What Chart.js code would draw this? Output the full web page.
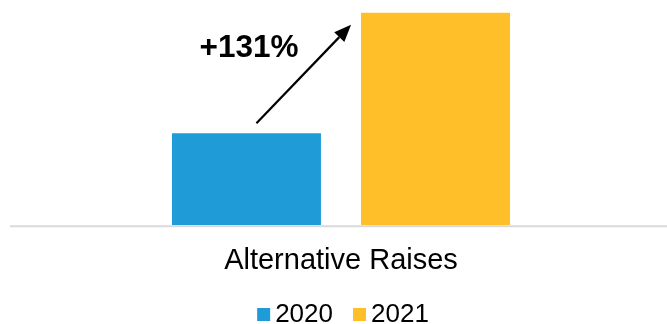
<!DOCTYPE html>
<html>
<head>
<meta charset="utf-8">
<script src="https://cdn.jsdelivr.net/npm/chart.js@4/dist/chart.umd.min.js"></script>
<style>
  html, body { margin: 0; padding: 0; background: #ffffff; }
  #wrap { width: 667px; height: 324px; position: relative; }
</style>
</head>
<body>
<div id="wrap"><canvas id="c" width="667" height="324"></canvas></div>
<script>
const categories = ['Alternative Raises'];
const seriesLabels = ['2020', '2021'];
const values2020 = [100];
const values2021 = [231];
const changeLabel = '+131%';
const seriesColors = ['#1F9BD7', '#FFBF29'];

const FONT = '"Liberation Sans", Arial, sans-serif';

const decor = {
  id: 'decor',
  afterDatasetsDraw(chart) {
    const ctx = chart.ctx;
    const yZero = chart.scales.y.getPixelForValue(0);
    // baseline
    ctx.save();
    ctx.strokeStyle = '#D9D9D9';
    ctx.lineWidth = 2;
    ctx.beginPath();
    ctx.moveTo(10, yZero + 1);
    ctx.lineTo(chart.width, yZero + 1);
    ctx.stroke();

    // arrow between bars
    const b0 = chart.getDatasetMeta(0).data[0];
    const b1 = chart.getDatasetMeta(1).data[0];
    const x0 = b0.x + 10, y0 = b0.y - 10;
    const x1 = b1.x - b1.width / 2 - 10, y1 = b1.y + 12;
    const ang = Math.atan2(y1 - y0, x1 - x0);
    const headLen = 17, headW = 7;
    const bx = x1 - headLen * Math.cos(ang), by = y1 - headLen * Math.sin(ang);
    ctx.strokeStyle = '#000';
    ctx.lineWidth = 2.2;
    ctx.beginPath();
    ctx.moveTo(x0, y0);
    ctx.lineTo(bx, by);
    ctx.stroke();
    ctx.fillStyle = '#000';
    ctx.beginPath();
    ctx.moveTo(x1, y1);
    ctx.lineTo(bx + headW * Math.sin(ang), by - headW * Math.cos(ang));
    ctx.lineTo(bx - headW * Math.sin(ang), by + headW * Math.cos(ang));
    ctx.closePath();
    ctx.fill();

    // change label
    ctx.font = 'bold 31.5px ' + FONT;
    ctx.textAlign = 'center';
    ctx.textBaseline = 'alphabetic';
    ctx.fillText(changeLabel, b0.x + 2.5, 57);

    // legend
    ctx.font = '26px ' + FONT;
    ctx.textAlign = 'left';
    const box = 13, gap = 5, itemGap = 20;
    const widths = seriesLabels.map(t => box + gap + ctx.measureText(t).width);
    const total = widths.reduce((a, b) => a + b, 0) + itemGap * (widths.length - 1);
    let x = 343 - total / 2;
    const base = 322;
    seriesLabels.forEach((t, i) => {
      ctx.fillStyle = chart.data.datasets[i].backgroundColor;
      ctx.fillRect(x, base - 14, box, box);
      ctx.fillStyle = '#000';
      ctx.fillText(t, x + box + gap, base);
      x += widths[i] + itemGap;
    });
    ctx.restore();
  }
};

new Chart(document.getElementById('c'), {
  type: 'bar',
  data: {
    labels: categories,
    datasets: [
      { label: seriesLabels[0], data: values2020, backgroundColor: seriesColors[0] },
      { label: seriesLabels[1], data: values2021, backgroundColor: seriesColors[1] }
    ]
  },
  options: {
    responsive: false,
    animation: false,
    devicePixelRatio: 1,
    layout: { padding: { left: 15, right: 0, top: 0, bottom: 28 } },
    datasets: { bar: { categoryPercentage: 0.58, barPercentage: 0.788 } },
    plugins: { legend: { display: false }, tooltip: { enabled: false } },
    scales: {
      x: {
        grid: { display: false, drawTicks: false },
        border: { display: false },
        ticks: { color: '#000', font: { family: FONT, size: 29 }, padding: 18 }
      },
      y: { display: false, min: 0, max: 245 }
    }
  },
  plugins: [decor]
});
</script>
</body>
</html>
